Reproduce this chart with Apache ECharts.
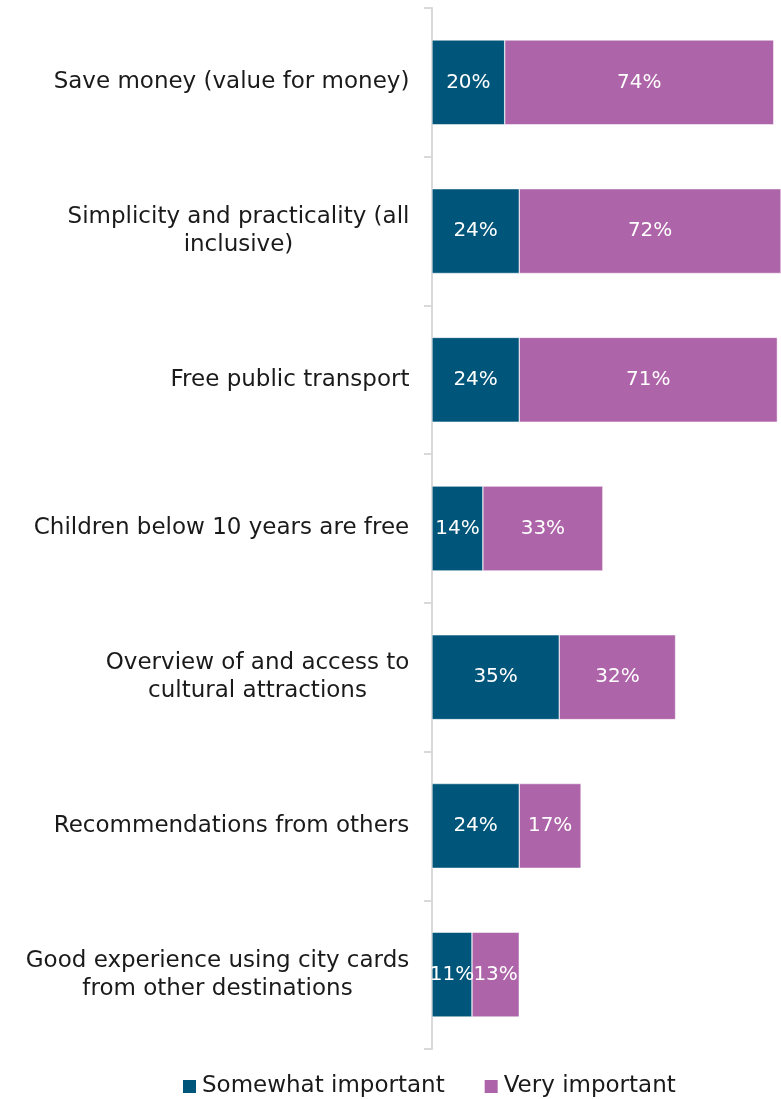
<!DOCTYPE html>
<html>
<head>
<meta charset="utf-8">
<script src="https://cdn.jsdelivr.net/npm/echarts@6/dist/echarts.min.js"></script>
<style>
  html, body { margin: 0; padding: 0; background: #ffffff; }
  #chart { width: 781px; height: 1099px; }
</style>
</head>
<body>
<div id="chart"></div>
<script>
// Reasons rated important, share of respondents (%)
const categories = [
  'Save money (value for money)',
  'Simplicity and practicality (all\ninclusive)',
  'Free public transport',
  'Children below 10 years are free',
  'Overview of and access to\ncultural attractions',
  'Recommendations from others',
  'Good experience using city cards\nfrom other destinations'
];
const somewhatImportant = [20, 24, 24, 14, 35, 24, 11];
const veryImportant = [74, 72, 71, 33, 32, 17, 13];
const seriesNames = ['Somewhat important', 'Very important'];

const FONT = 'DejaVu Sans';
const CAT_SIZE = 23;

// Multi-line category names are centred line by line under a right-anchored block:
// give every line a rich token as wide as the longest line of its name.
const measureCtx = document.createElement('canvas').getContext('2d');
measureCtx.font = `${CAT_SIZE}px "${FONT}"`;
const rich = {};
categories.forEach((name, i) => {
  const w = Math.max(...name.split('\n').map(l => measureCtx.measureText(l).width));
  rich['c' + i] = {
    width: Math.ceil(w) + 1,
    align: 'center',
    color: '#1a1a1a',
    fontFamily: FONT,
    fontSize: CAT_SIZE,
    lineHeight: 28
  };
});

const chart = echarts.init(document.getElementById('chart'));

const labelStyle = {
  show: true,
  position: 'inside',
  color: '#ffffff',
  fontFamily: FONT,
  fontSize: 20,
  formatter: p => p.value + '%'
};

chart.setOption({
  animation: false,
  textStyle: { fontFamily: FONT },
  grid: { left: 432, top: 8, right: 0, height: 1041 },
  xAxis: {
    type: 'value',
    min: 0,
    max: 96,
    show: false
  },
  yAxis: {
    type: 'category',
    inverse: true,
    data: categories,
    axisLine: { show: true, lineStyle: { color: '#d9d9d9', width: 2 } },
    axisTick: { show: true, inside: false, length: 8, lineStyle: { color: '#d9d9d9', width: 2 } },
    axisLabel: {
      margin: 22,
      align: 'right',
      formatter: (value, index) =>
        value.split('\n').map(line => `{c${index}|${line}}`).join('\n'),
      rich: rich
    },
    splitLine: { show: false }
  },
  legend: {
    top: 1070,
    left: 176,
    itemWidth: 15,
    itemHeight: 15,
    itemGap: 38,
    icon: 'rect',
    textStyle: { color: '#1a1a1a', fontFamily: FONT, fontSize: 23 },
    data: seriesNames
  },
  series: [
    {
      name: seriesNames[0],
      type: 'bar',
      stack: 'total',
      barWidth: '57%',
      itemStyle: { color: '#00567a', borderColor: '#ffffff', borderWidth: 0.5 },
      label: labelStyle,
      data: somewhatImportant
    },
    {
      name: seriesNames[1],
      type: 'bar',
      stack: 'total',
      itemStyle: { color: '#ae64a9', borderColor: '#ffffff', borderWidth: 0.5 },
      label: labelStyle,
      data: veryImportant
    }
  ]
});
</script>
</body>
</html>
